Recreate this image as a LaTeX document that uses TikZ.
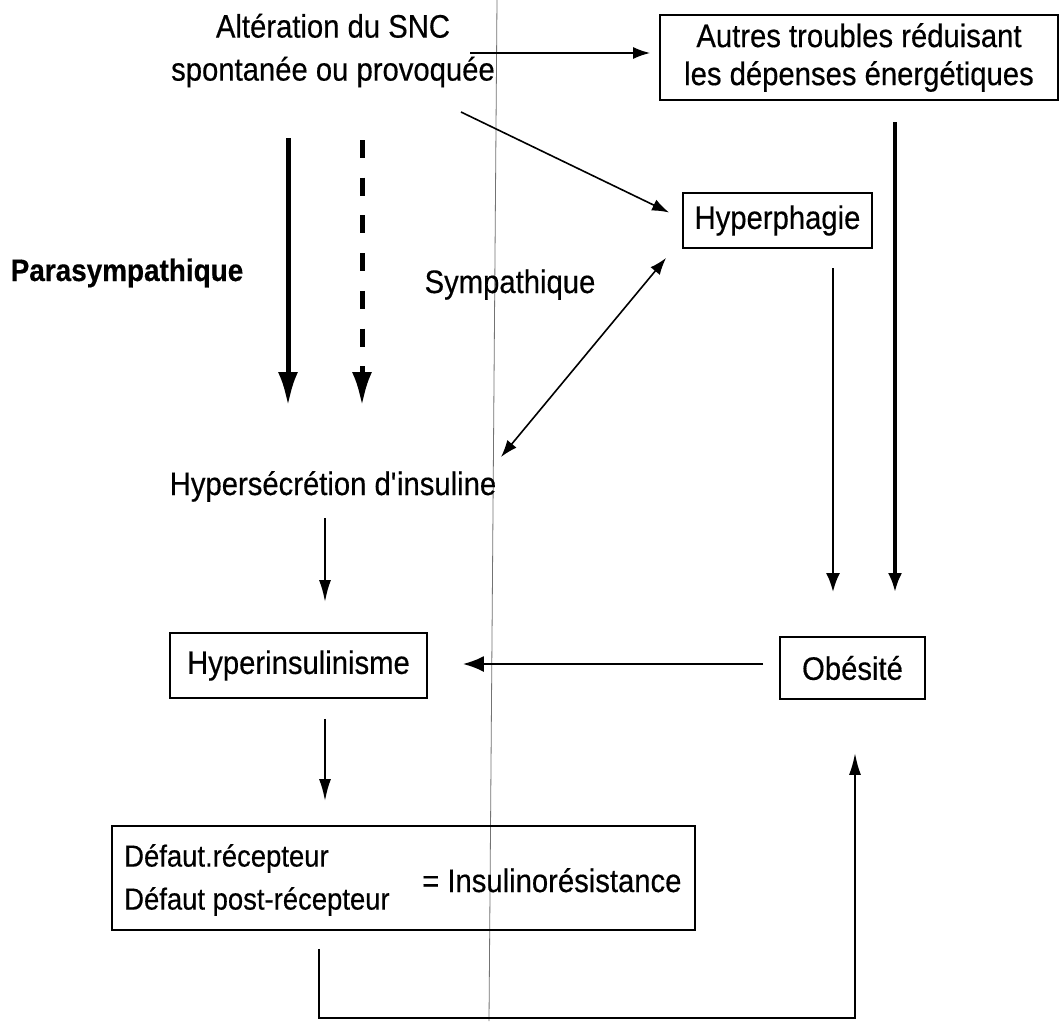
\documentclass[tikz,border=0pt]{standalone}
\usepackage{fontspec}
\setmainfont[FakeStretch=0.9, FakeBold=0.4]{Liberation Sans}
\usetikzlibrary{arrows.meta,calc}
\begin{document}
\begin{tikzpicture}[x=1pt,y=-1pt,
  every node/.style={font=\fontsize{32.5}{43}\selectfont, inner sep=0pt},
  box/.style={draw, line width=1.8pt},
  thin arrow/.style={line width=1.6pt, -{Latex[length=17pt,width=12pt]}},
  mid arrow/.style={line width=2.2pt, -{Latex[length=22pt,width=12pt]}},
  side arrow/.style={line width=3pt, -{Latex[length=19pt,width=14pt]}},
  big arrow/.style={line width=5pt, -{Latex[length=34pt,width=20pt]}},
  scanline/.style={line width=0.8pt, black!55}]
\fill[white] (0,0) rectangle (1061,1021);
\useasboundingbox (0,0) rectangle (1061,1021);

% scan fold line
\coordinate (fa) at (497,0);
\coordinate (fb) at (489,1021);
\draw[scanline] (fa) -- (fb);

% nodes
\node[align=center] (alt) at (333,50.5) {Altération du SNC\\spontanée ou provoquée};
\node[box, minimum width=398pt, minimum height=85pt, align=center,
      font=\fontsize{32.5}{38}\selectfont] (autres) at (859,57.5)
      {Autres troubles réduisant\\les dépenses énergétiques};
\node[box, minimum width=189pt, minimum height=55pt] (hyperphagie) at (777.5,220.5) {Hyperphagie};
\node[font=\bfseries\fontsize{31}{34}\selectfont, anchor=base] (para) at (127,281) {Parasympathique};
\node[anchor=base] (sympa) at (510,293) {Sympathique};
\node[anchor=base] (hypersec) at (333,495) {Hypersécrétion d\textquotesingle insuline};
\node[box, minimum width=257pt, minimum height=65pt] (hyperins) at (298.5,665.5) {Hyperinsulinisme};
\node[box, minimum width=145pt, minimum height=62pt] (obesite) at (852.5,668) {Obésité};
\node[box, minimum width=583pt, minimum height=104pt] (defaut) at (403.5,878) {};
\node[anchor=west, align=left, font=\fontsize{30.5}{43}\selectfont] (defauttxt) at (124,880)
      {Défaut.récepteur\\Défaut post-récepteur};
\node[anchor=base west] (insres) at (422,892) {= Insulinorésistance};

% connector end points
\coordinate (a1) at (470,53);
\coordinate (a2) at ($(autres.west |- a1)+(-9,0)$);
\coordinate (b1) at (461,112);
\coordinate (b2) at ($(hyperphagie.west)+(-13,-8)$);
\coordinate (c1) at (501,457);
\coordinate (c2) at ($(hyperphagie.south west)+(-16,9)$);
\coordinate (p1) at (288,138);
\coordinate (p2) at (288,406);
\coordinate (q1) at (362,140);
\coordinate (q2) at (362,406);
\coordinate (h1) at (325,518);
\coordinate (h2) at ($(hyperins.north -| h1)+(0,-30)$);
\coordinate (o1) at ($(obesite.west)+(-16,-4)$);
\coordinate (o2) at ($(hyperins.east |- o1)+(35,0)$);
\coordinate (v1) at (833,268);
\coordinate (v1e) at ($(obesite.north -| v1)+(0,-44)$);
\coordinate (v2) at (895,122);
\coordinate (v2e) at ($(obesite.north -| v2)+(0,-44)$);
\coordinate (i1) at ($(hyperins.south -| h1)+(0,20)$);
\coordinate (i2) at ($(defaut.north -| i1)+(0,-24)$);
\coordinate (d1) at ($(defaut.south -| 319,0)+(0,18)$);
\coordinate (d2) at (855,1018);
\coordinate (d3) at ($(obesite.south -| d2)+(0,53)$);

% connectors
\draw[thin arrow] (a1) -- (a2);
\draw[thin arrow] (b1) -- (b2);
\draw[thin arrow, {Latex[length=17pt,width=12pt]}-{Latex[length=17pt,width=12pt]}] (c1) -- (c2);
\draw[big arrow] (p1) -- (p2);
\draw[big arrow, dash pattern=on 18pt off 19.7pt] (q1) -- (q2);
\draw[mid arrow] (h1) -- (h2);
\draw[mid arrow, -{Latex[length=21pt,width=16pt]}] (o1) -- (o2);
\draw[side arrow, line width=2.6pt] (v1) -- (v1e);
\draw[side arrow, line width=3.4pt] (v2) -- (v2e);
\draw[mid arrow] (i1) -- (i2);
\draw[mid arrow] (d1) -- (d1 |- d2) -- (d2) -- (d3);
\end{tikzpicture}
\end{document}
